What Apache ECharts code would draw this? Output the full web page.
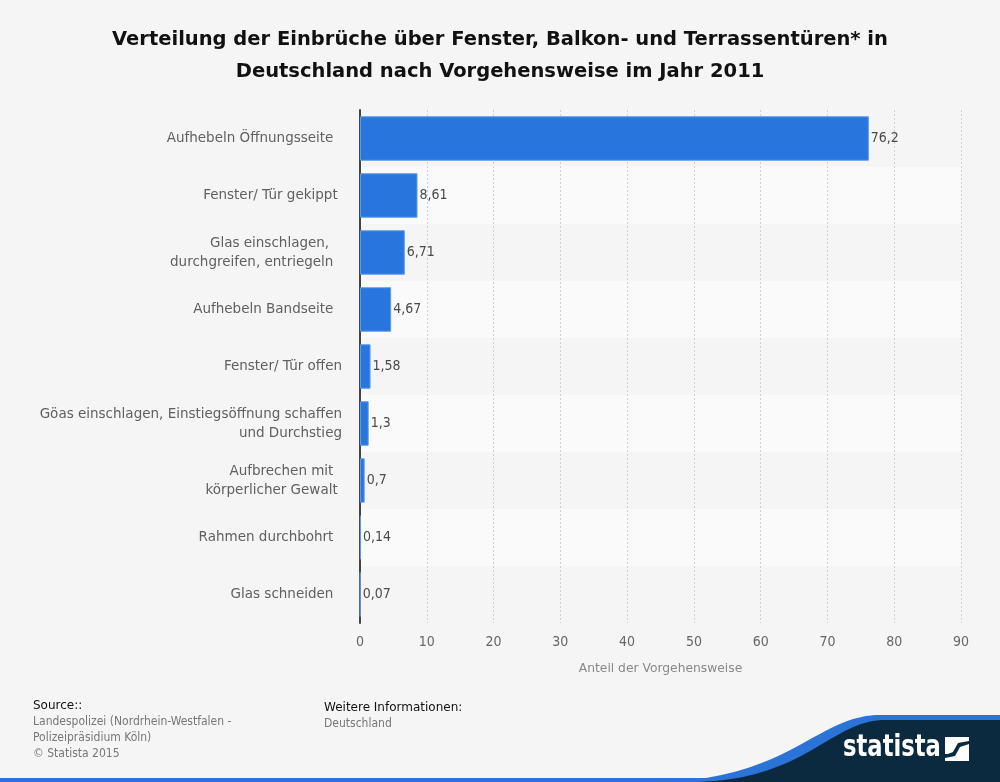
<!DOCTYPE html>
<html>
<head>
<meta charset="utf-8">
<script src="https://cdn.jsdelivr.net/npm/echarts@6/dist/echarts.min.js"></script>
<style>
html,body{margin:0;padding:0;background:#f5f5f5;}
#chart{width:1000px;height:782px;}
</style>
</head>
<body>
<div id="chart"></div>
<script>
const categories = [
  "Aufhebeln Öffnungsseite  ",
  "Fenster/ Tür gekippt ",
  "Glas einschlagen,   \ndurchgreifen, entriegeln  ",
  "Aufhebeln Bandseite  ",
  "Fenster/ Tür offen",
  "Göas einschlagen, Einstiegsöffnung schaffen\nund Durchstieg",
  "Aufbrechen mit  \nkörperlicher Gewalt ",
  "Rahmen durchbohrt  ",
  "Glas schneiden  "
];
const values = [76.2, 8.61, 6.71, 4.67, 1.58, 1.3, 0.7, 0.14, 0.07];
const xTicks = [0, 10, 20, 30, 40, 50, 60, 70, 80, 90];

const chart = echarts.init(document.getElementById('chart'));
const fmt = v => String(v).replace('.', ',');

// decorative logo wave (styling only)
function bez(p0, p1, p2, p3, n) {
  const pts = [];
  for (let i = 0; i <= n; i++) {
    const t = i / n, u = 1 - t;
    pts.push([
      u*u*u*p0[0] + 3*u*u*t*p1[0] + 3*u*t*t*p2[0] + t*t*t*p3[0],
      u*u*u*p0[1] + 3*u*u*t*p1[1] + 3*u*t*t*p2[1] + t*t*t*p3[1]
    ]);
  }
  return pts;
}
const bluePts = bez([650, 782], [790, 782], [815, 715], [880, 715], 40).concat([[1000, 715], [1000, 782]]);
const navyPts = bez([690, 782], [805, 782], [830, 720], [885, 720], 40).concat([[1000, 720], [1000, 782]]);

chart.setOption({
  backgroundColor: '#f5f5f5',
  animation: false,
  title: {
    text: 'Verteilung der Einbrüche über Fenster, Balkon- und Terrassentüren* in\nDeutschland nach Vorgehensweise im Jahr 2011',
    left: 'center',
    top: 19,
    textStyle: {
      fontFamily: 'DejaVu Sans',
      fontWeight: 'bold',
      fontSize: 19.5,
      lineHeight: 32,
      color: '#111'
    }
  },
  grid: { left: 360, right: 39, top: 110, bottom: 159, containLabel: false },
  xAxis: {
    type: 'value',
    min: xTicks[0],
    max: xTicks[xTicks.length - 1],
    interval: 10,
    name: 'Anteil der Vorgehensweise',
    nameLocation: 'middle',
    nameGap: 40,
    nameTextStyle: { fontFamily: 'DejaVu Sans', fontSize: 12.3, color: '#888' },
    axisLine: { show: false },
    axisTick: { show: false },
    axisLabel: {
      fontFamily: 'DejaVu Sans Condensed',
      fontSize: 14,
      color: '#666',
      margin: 12,
      formatter: v => xTicks.includes(v) ? String(v) : ''
    },
    splitLine: { show: true, lineStyle: { type: [2, 2], color: '#cfcfcf', width: 1 } }
  },
  yAxis: {
    type: 'category',
    data: categories,
    inverse: true,
    axisLine: { show: true, lineStyle: { color: '#444', width: 2 } },
    axisTick: { show: false },
    axisLabel: {
      fontFamily: 'DejaVu Sans',
      fontSize: 13.5,
      color: '#606060',
      margin: 18,
      lineHeight: 19,
      align: 'right'
    },
    splitLine: { show: false },
    splitArea: { show: true, areaStyle: { color: ['#f5f5f5', '#fafafa'] } }
  },
  series: [{
    type: 'bar',
    data: values,
    barCategoryGap: '22%',
    itemStyle: { color: '#2876dd', borderColor: '#5c9aea', borderWidth: 1 },
    label: {
      show: true,
      position: 'right',
      distance: 2,
      fontFamily: 'DejaVu Sans Condensed',
      fontSize: 14,
      color: '#4a4a4a',
      formatter: p => fmt(p.value)
    }
  }],
  graphic: [
    { type: 'text', x: 33, y: 700, style: { text: 'Source::', font: '12px "DejaVu Sans"', fill: '#111' } },
    { type: 'text', x: 33, y: 714, style: { text: 'Landespolizei (Nordrhein-Westfalen -\nPolizeipräsidium Köln)\n© Statista 2015', font: '12px "DejaVu Sans Condensed"', fill: '#777', lineHeight: 16 } },
    { type: 'text', x: 324, y: 702, style: { text: 'Weitere Informationen:', font: '12px "DejaVu Sans"', fill: '#111' } },
    { type: 'text', x: 324, y: 718, style: { text: 'Deutschland', font: '12px "DejaVu Sans Condensed"', fill: '#777' } },
    { type: 'rect', shape: { x: 0, y: 778, width: 1000, height: 4 }, style: { fill: '#2a74d8' } },
    { type: 'polygon', shape: { points: bluePts }, style: { fill: '#2a74d8' } },
    { type: 'polygon', shape: { points: navyPts }, style: { fill: '#0b2a40' } },
    { type: 'text', x: 843, y: 733, scaleX: 0.84, style: { text: 'statista', font: 'bold 30px "DejaVu Sans Condensed"', fill: '#fff' } },
    { type: 'polygon', shape: { points: [[945,737],[969,737],[969,741],[958,743],[953,752],[948,754],[945,754]] }, style: { fill: '#fff' } },
    { type: 'polygon', shape: { points: [[969,744],[969,761],[945,761],[945,758],[955,756],[960,747]] }, style: { fill: '#fff' } }
  ]
});
</script>
</body>
</html>
